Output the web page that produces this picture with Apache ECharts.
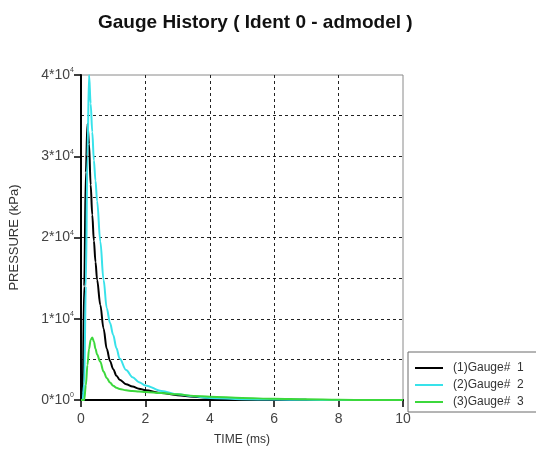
<!DOCTYPE html>
<html>
<head>
<meta charset="utf-8">
<script src="https://cdn.jsdelivr.net/npm/echarts@6/dist/echarts.min.js"></script>
<style>
html,body{margin:0;padding:0;background:#fff;}
#chart{width:536px;height:451px;}
</style>
</head>
<body>
<div id="chart"></div>
<script>
const timeMs = [0, 0.05, 0.1, 0.15, 0.2, 0.25, 0.3, 0.35, 0.4, 0.45, 0.5, 0.6, 0.7, 0.8, 0.9, 1.0, 1.1, 1.2, 1.4, 1.6, 1.8, 2.0, 2.5, 3.0, 3.5, 4.0, 5, 6, 7, 8, 9, 10];
const gauge1 = [0, 1000, 14000, 28000, 34000, 31500, 26500, 22800, 19600, 17000, 14800, 11700, 8800, 6300, 4800, 3800, 3000, 2500, 1950, 1650, 1400, 1200, 850, 600, 400, 250, 100, 50, 20, 0, 0, 0];
const gauge2 = [0, 0, 2000, 14000, 30000, 40000, 36500, 33000, 29500, 27000, 24500, 19500, 14800, 11300, 9500, 8000, 6400, 5100, 3700, 2800, 2200, 1800, 1100, 700, 450, 250, 100, 50, 20, 0, 0, 0];
const gauge3 = [0, 0, 0, 1800, 4300, 6300, 7400, 7700, 7200, 6300, 5600, 4700, 3500, 2700, 2150, 1750, 1500, 1350, 1200, 1100, 1050, 1000, 850, 700, 500, 400, 250, 150, 80, 30, 0, 0];
const seriesNames = ['(1)Gauge#  1', '(2)Gauge#  2', '(3)Gauge#  3'];
const seriesColors = ['#000000', '#38e2ea', '#3cd83c'];
const yTickLabels = {0: ['0', '0'], 10000: ['1', '4'], 20000: ['2', '4'], 30000: ['3', '4'], 40000: ['4', '4']};

const pairs = arr => timeMs.map((t, i) => [t, arr[i]]);
const allData = [gauge1, gauge2, gauge3];

const chart = echarts.init(document.getElementById('chart'));
const FONT = '"Liberation Sans", Arial, sans-serif';
chart.setOption({
  animation: false,
  backgroundColor: '#fff',
  textStyle: {fontFamily: FONT},
  title: {
    text: 'Gauge History ( Ident 0 - admodel )',
    left: 93, top: 8,
    textStyle: {fontFamily: FONT, fontSize: 19, fontWeight: 'bold', color: '#111'}
  },
  grid: {
    left: 79, right: 133, top: 75, bottom: 49,
    show: true, borderColor: '#8a8a8a', borderWidth: 1, backgroundColor: 'transparent'
  },
  legend: {
    orient: 'vertical',
    left: 408, top: 352,
    padding: [9, 40, 3, 7],
    icon: 'rect',
    itemWidth: 28, itemHeight: 2, itemGap: 3,
    borderColor: '#6a6a6a', borderWidth: 1,
    textStyle: {fontFamily: FONT, fontSize: 12, color: '#333', lineHeight: 14, padding: [0, 0, 0, 5]},
    data: seriesNames
  },
  xAxis: {
    type: 'value', min: 0, max: 10, interval: 2,
    name: 'TIME (ms)', nameLocation: 'middle', nameGap: 34,
    nameTextStyle: {fontFamily: FONT, fontSize: 12, color: '#333'},
    axisLine: {show: true, onZero: false, lineStyle: {color: '#000', width: 2}},
    axisTick: {show: true, length: 7, lineStyle: {color: '#000', width: 1.5}},
    axisLabel: {fontFamily: FONT, fontSize: 14, color: '#444', margin: 12},
    splitLine: {show: true, showMinLine: false, showMaxLine: false, lineStyle: {color: '#222', width: 1, type: [3, 3]}}
  },
  yAxis: {
    type: 'value', min: 0, max: 40000, interval: 10000,
    name: 'PRESSURE (kPa)', nameLocation: 'middle', nameGap: 60,
    nameTextStyle: {fontFamily: FONT, fontSize: 13, color: '#333'},
    axisLine: {show: true, onZero: false, lineStyle: {color: '#000', width: 2}},
    axisTick: {show: true, length: 7, lineStyle: {color: '#000', width: 1.5}},
    minorTick: {show: false, splitNumber: 2},
    minorSplitLine: {show: true, lineStyle: {color: '#222', width: 1, type: [3, 3]}},
    axisLabel: {
      margin: 7,
      formatter: v => {
        const l = yTickLabels[v];
        return l ? '{m|' + l[0] + '*10}{s|' + l[1] + '}' : '';
      },
      rich: {
        m: {fontFamily: FONT, fontSize: 14, color: '#444', lineHeight: 16},
        s: {fontFamily: FONT, fontSize: 7, color: '#444', verticalAlign: 'top', lineHeight: 16, padding: [0, 0, 8, 0]}
      }
    },
    splitLine: {show: true, showMinLine: false, showMaxLine: false, lineStyle: {color: '#222', width: 1, type: [3, 3]}}
  },
  series: allData.map((arr, i) => ({
    name: seriesNames[i],
    type: 'line',
    data: pairs(arr),
    symbol: 'none',
    smooth: 0.35,
    smoothMonotone: 'x',
    lineStyle: {color: seriesColors[i], width: 2},
    itemStyle: {color: seriesColors[i]}
  }))
});
</script>
</body>
</html>
